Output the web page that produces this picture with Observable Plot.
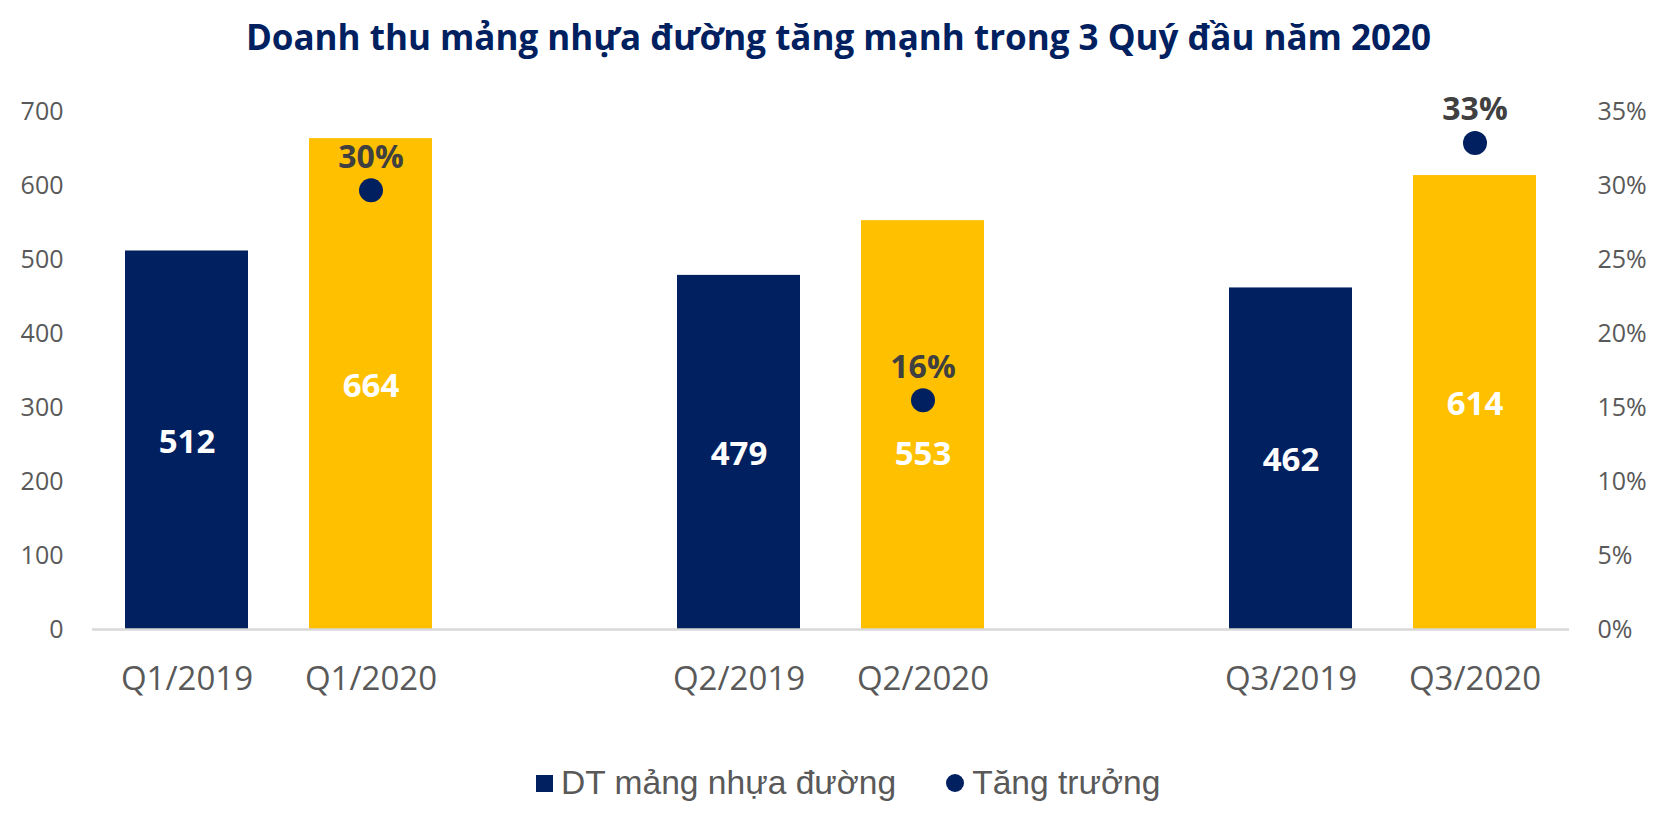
<!DOCTYPE html>
<html>
<head>
<meta charset="utf-8">
<script src="https://cdn.jsdelivr.net/npm/d3@7"></script>
<script src="https://cdn.jsdelivr.net/npm/@observablehq/plot@0.6"></script>
<style>
  html, body { margin: 0; padding: 0; background: #ffffff; }
  body { position: relative; width: 1659px; height: 816px; overflow: hidden; }
  #title { position: absolute; left: 9px; top: 19px; width: 1659px; text-align: center;
    font-family: "Open Sans", sans-serif; font-weight: 700; font-size: 35px; line-height: 35px; color: #002060; white-space: nowrap; }
  #chart { position: absolute; left: 0; top: 80px; }
  #legend { position: absolute; left: 536px; top: 766px; display: flex; align-items: center;
    font-family: "Liberation Sans", Arial, sans-serif; font-size: 33.6px; line-height: 34px; color: #595959; white-space: nowrap; }
  .sw { display: inline-block; width: 17px; height: 17px; background: #002060; margin-right: 8px; }
  .cw { display: inline-block; width: 18px; height: 18px; border-radius: 50%; background: #002060; margin-right: 8px; margin-left: 50px; }
</style>
</head>
<body>
<div id="title">Doanh thu mảng nhựa đường tăng mạnh trong 3 Quý đầu năm 2020</div>
<div id="chart"></div>
<div id="legend"><span class="sw"></span><span>DT mảng nhựa đường</span><span class="cw"></span><span>Tăng trưởng</span></div>
<script>
// ---- data ----
const quarters = ["Q1/2019", "Q1/2020", "Q2/2019", "Q2/2020", "Q3/2019", "Q3/2020"];
const revenue = [512, 664, 479, 553, 462, 614];
const years = ["2019", "2020", "2019", "2020", "2019", "2020"];
const growthQuarters = ["Q1/2020", "Q2/2020", "Q3/2020"];
const growth = [0.297, 0.155, 0.329];
const growthLabels = ["30%", "16%", "33%"];
const leftTicks = [0, 100, 200, 300, 400, 500, 600, 700];
const rightTickLabels = ["0%", "5%", "10%", "15%", "20%", "25%", "30%", "35%"];
const leftMax = 700;
const rightMax = 0.35;

// band domain with empty slots between quarter groups
const slots = ["Q1/2019", "Q1/2020", "gap1", "Q2/2019", "Q2/2020", "gap2", "Q3/2019", "Q3/2020"];

const rows = quarters.map((q, i) => ({ quarter: q, value: revenue[i], year: years[i] }));
const growthRows = growthQuarters.map((q, i) => ({ quarter: q, g: growth[i], label: growthLabels[i] }));
const toLeft = g => g * leftMax / rightMax;

// a value label that would collide with its growth dot is pushed below it (as in the original)
const collides = d => growthRows.some(g => g.quarter === d.quarter && Math.abs(toLeft(g.g) - d.value / 2) < 40);
const valueLabelStyle = { x: "quarter", y: d => d.value / 2, text: d => String(d.value), fill: "white", fontSize: 33, fontWeight: "bold" };

const chart = Plot.plot({
  width: 1659,
  height: 660,
  marginLeft: 92,
  marginRight: 90,
  marginTop: 31.5,
  marginBottom: 111,
  style: { fontFamily: "Open Sans, sans-serif", background: "white", overflow: "visible" },
  x: { domain: slots, paddingInner: 0.33, paddingOuter: 0.165, axis: null },
  y: { domain: [0, leftMax], axis: null },
  color: { domain: ["2019", "2020"], range: ["#002060", "#FFC000"] },
  marks: [
    Plot.barY(rows, { x: "quarter", y: "value", fill: "year" }),
    Plot.ruleY([0], { stroke: "#d9d9d9", strokeWidth: 2.5 }),
    Plot.text(rows.filter(d => !collides(d)), { ...valueLabelStyle, dy: 2 }),
    Plot.text(rows.filter(collides), { ...valueLabelStyle, dy: 29 }),
    Plot.dot(growthRows, { x: "quarter", y: d => toLeft(d.g), r: 12, fill: "#002060" }),
    Plot.text(growthRows, { x: "quarter", y: d => toLeft(d.g), text: "label", dy: -33, fill: "#404040", fontSize: 32, fontWeight: "bold" }),
    Plot.axisX({ ticks: quarters, tickSize: 0, tickPadding: 37, fontSize: 33, color: "#595959", label: null }),
    Plot.axisY({ anchor: "left", ticks: leftTicks, tickSize: 0, tickPadding: 29, fontSize: 25, color: "#595959", label: null }),
    Plot.axisY({ anchor: "right", ticks: leftTicks, tickFormat: d => rightTickLabels[leftTicks.indexOf(d)], tickSize: 0, tickPadding: 28, fontSize: 25, color: "#595959", label: null, textAnchor: "start" })
  ]
});
document.getElementById("chart").appendChild(chart);
</script>
</body>
</html>
